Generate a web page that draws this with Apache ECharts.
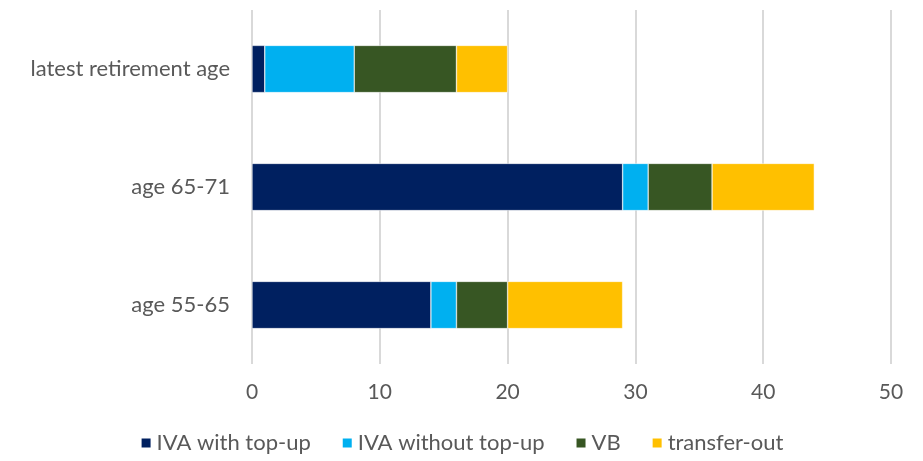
<!DOCTYPE html>
<html>
<head>
<meta charset="utf-8">
<script src="https://cdn.jsdelivr.net/npm/echarts@6/dist/echarts.min.js"></script>
<style>
	html, body { margin: 0; padding: 0; background: #fff; }
	#chart { width: 923px; height: 461px; }
</style>
</head>
<body>
<div id="chart"></div>
<script>
	// categories bottom to top (as drawn)
	const categories = ['age 55-65', 'age 65-71', 'latest retirement age']
	const ivaTopUp = [14, 29, 1]
	const ivaNoTopUp = [2, 2, 7]
	const vb = [4, 5, 8]
	const transferOut = [9, 8, 4]
	const xTicks = [0, 10, 20, 30, 40, 50]

	const font = 'Lato'
	const textColor = '#595959'

	const chart = echarts.init(document.getElementById('chart'))

	function bar(name, data, color) {
		return {
			name: name,
			type: 'bar',
			stack: 'total',
			data: data,
			barWidth: '40%',
			itemStyle: {
				color: color,
				borderColor: '#fff',
				borderWidth: 0.5
			}
		}
	}

	let option = {
		animation: false,
		grid: {
			left: 252,
			right: 32,
			top: 10,
			bottom: 97
		},
		legend: {
			bottom: 2,
			left: 'center',
			itemWidth: 11,
			itemHeight: 11,
			itemGap: 30,
			icon: 'rect',
			textStyle: {
				color: textColor,
				fontFamily: font,
				fontSize: 22
			}
		},
		xAxis: {
			type: 'value',
			min: xTicks[0],
			max: xTicks[xTicks.length - 1],
			interval: 10,
			axisLine: { show: false },
			axisTick: { show: false },
			splitLine: {
				lineStyle: { color: '#d9d9d9', width: 2 }
			},
			axisLabel: {
				color: textColor,
				fontFamily: font,
				fontSize: 21,
				margin: 18
			}
		},
		yAxis: {
			type: 'category',
			data: categories,
			axisLine: { show: false },
			axisTick: { show: false },
			axisLabel: {
				color: textColor,
				fontFamily: font,
				fontSize: 22,
				margin: 22
			}
		},
		series: [
			bar('IVA with top-up', ivaTopUp, '#002060'),
			bar('IVA without top-up', ivaNoTopUp, '#00b0f0'),
			bar('VB', vb, '#375623'),
			bar('transfer-out', transferOut, '#ffc000')
		]
	}

	chart.setOption(option)
</script>
</body>
</html>
